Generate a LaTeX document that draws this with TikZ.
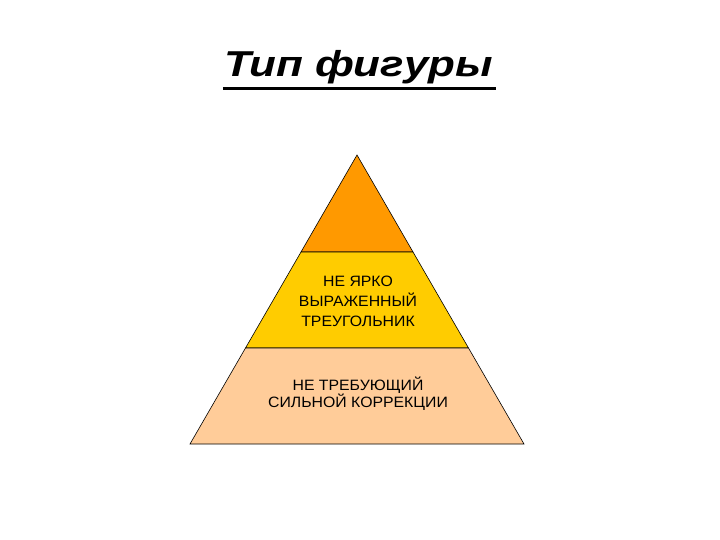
\documentclass[tikz,border=0pt]{standalone}
\usepackage{fontspec}
\usepackage{graphicx}
\setmainfont{Liberation Sans}
\newfontfamily\capfont[FakeStretch=1.055]{Liberation Sans}
\usetikzlibrary{calc}

\definecolor{tipband}{HTML}{FF9900}
\definecolor{midband}{HTML}{FFCC00}
\definecolor{baseband}{HTML}{FFCC99}

\begin{document}
\begin{tikzpicture}[x=1pt,y=-1pt,black,text=black,
  band/.style={draw=black,line width=0.6pt},
  caption/.style={align=center,inner sep=0pt}]

  \useasboundingbox (0,0) rectangle (720,540);

  % title
  \node (title) [anchor=base,inner sep=0pt] at (358.5,77)
    {\scalebox{1.22}[1]{\fontsize{36}{40}\selectfont\bfseries\itshape Тип фигуры}};
  \draw [line width=3pt] ($(title.base west)+(-1,12)$) -- ($(title.base east)+(3,12)$);

  % pyramid corners
  \coordinate (apex) at (357  ,155);
  \coordinate (ul)   at (301  ,252);
  \coordinate (ur)   at (413  ,252);
  \coordinate (ml)   at (245.5,348);
  \coordinate (mr)   at (468.5,348);
  \coordinate (bl)   at (190  ,444);
  \coordinate (br)   at (524  ,444);

  % bands
  \filldraw [band,fill=tipband]  (apex) -- (ur) -- (ul) -- cycle;
  \filldraw [band,fill=midband]  (ul) -- (ur) -- (mr) -- (ml) -- cycle;
  \filldraw [band,fill=baseband] (ml) -- (mr) -- (br) -- (bl) -- cycle;

  % captions
  \node (midtext) [caption,font=\capfont\fontsize{15}{20}\selectfont] at (358,301)
    {НЕ ЯРКО\\ВЫРАЖЕННЫЙ\\ТРЕУГОЛЬНИК};
  \node (basetext) [caption,font=\capfont\fontsize{15}{17.5}\selectfont] at (358,393.5)
    {НЕ ТРЕБУЮЩИЙ\\СИЛЬНОЙ КОРРЕКЦИИ};
\end{tikzpicture}
\end{document}
